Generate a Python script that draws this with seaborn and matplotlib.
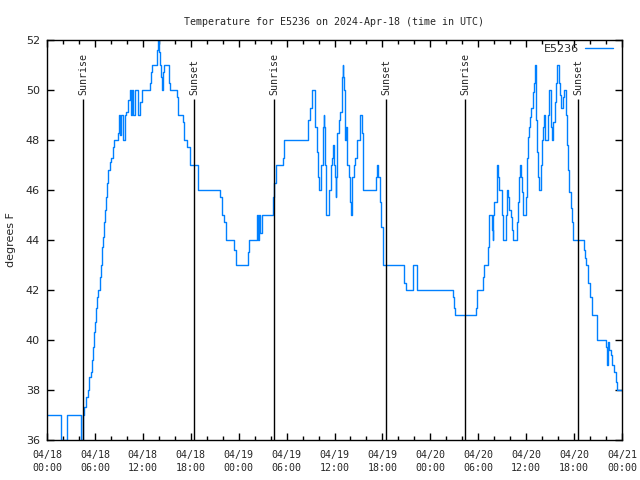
import numpy as np
import pandas as pd
import matplotlib
matplotlib.use("Agg")
import matplotlib.pyplot as plt
import matplotlib.dates as mdates
import seaborn as sns

# hours since 2024-04-18 00:00 UTC, temperature starting at that hour (step data)
hours = [0, 1.75, 2.5, 4.26, 4.5, 4.67, 4.88, 5.09, 5.3, 5.47, 5.59, 5.72, 5.84, 5.97,
         6.09, 6.22, 6.43, 6.64, 6.8, 6.93, 7.05, 7.18, 7.3, 7.43, 7.56, 7.68, 7.89,
         8.01, 8.22, 8.39, 8.93, 9.06, 9.18, 9.27, 9.47, 9.77, 9.89, 10.19, 10.39,
         10.48, 10.64, 10.81, 10.98, 11.35, 11.65, 11.85, 12.9, 13.02, 13.15, 13.73,
         13.86, 13.98, 14.15, 14.27, 14.4, 14.48, 14.65, 15.32, 15.4, 16.24, 16.36,
         16.99, 17.15, 17.49, 17.91, 18.95, 21.66, 21.87, 22.16, 22.37, 23.46, 23.67,
         25.2, 25.34, 26.25, 26.4, 26.55, 26.7, 26.88, 28.26, 28.42, 28.63, 29.51,
         29.72, 32.72, 32.97, 33.14, 33.56, 33.77, 33.89, 34.02, 34.35, 34.6, 34.65,
         34.72, 34.81, 34.98, 35.31, 35.52, 35.73, 35.86, 35.98, 36.11, 36.19, 36.25,
         36.36, 36.53, 36.69, 36.9, 37.03, 37.11, 37.24, 37.32, 37.45, 37.61, 37.82,
         37.99, 38.07, 38.24, 38.45, 38.61, 38.78, 39.2, 39.49, 39.62, 41.2, 41.33,
         41.49, 41.7, 41.87, 42.04, 42.12, 44.75, 44.92, 45.79, 46.38, 50.79, 50.96,
         51.13, 53.72, 53.89, 54.55, 54.68, 55.26, 55.39, 55.76, 55.8, 55.89, 56.01,
         56.31, 56.39, 56.52, 56.64, 57.02, 57.14, 57.48, 57.65, 57.77, 57.9, 58.07,
         58.23, 58.4, 58.81, 58.9, 58.98, 59.11, 59.19, 59.31, 59.44, 59.65, 60.02,
         60.15, 60.27, 60.4, 60.52, 60.65, 60.82, 60.94, 61.07, 61.27, 61.4, 61.53,
         61.65, 61.82, 61.99, 62.11, 62.24, 62.36, 62.78, 62.91, 63.11, 63.24, 63.41,
         63.57, 63.7, 63.82, 64.12, 64.24, 64.41, 64.58, 64.74, 64.99, 65.12, 65.24,
         65.41, 65.58, 65.7, 65.83, 67.25, 67.37, 67.5, 67.79, 68.0, 68.21, 68.83,
         70.0, 70.13, 70.25, 70.42, 70.59, 70.8, 71.05, 71.21, 71.38, 72.0]
temps = [37, 36, 37, 36, 37, 37.3, 37.7, 38, 38.5, 38.7, 39.2, 39.7, 40.3, 40.7,
         41.3, 41.7, 42, 42.5, 43, 43.7, 44.1, 44.7, 45.2, 45.7, 46.3, 46.8, 47.1,
         47.3, 47.7, 48, 48.3, 49, 48.2, 49, 48, 49, 49.1, 49.6, 50,
         49, 50, 49, 50, 49, 49.5, 50, 50.3, 50.7, 51, 51.6,
         52, 51.5, 51, 50.5, 50, 50.7, 51, 50.3, 50, 49.7, 49,
         48.7, 48, 47.7, 47, 46, 45.7, 45, 44.7, 44, 43.6, 43,
         43.5, 44, 45, 44, 45, 44.3, 45, 45.7, 46.3, 47, 47.3,
         48, 48.8, 49.3, 50, 48.5, 47.5, 46.5, 46, 47, 48.5, 49,
         48.5, 47, 45, 46, 47, 47.3, 47.8, 47, 46.5, 45.7, 46.5,
         48.3, 48.8, 49.1, 50.5, 51, 50.5, 50, 48, 48.5, 47, 46.5,
         45.5, 45, 46.5, 47, 47.3, 48, 49, 48.3, 46, 46.5, 47,
         46.5, 45.5, 44.5, 43.7, 43, 42.3, 42, 43, 42, 41.7, 41.3,
         41, 41.3, 42, 42.5, 43, 43.7, 45, 44.4, 44, 45, 45.5,
         46.8, 47, 46.5, 46, 45, 44, 45, 46, 45.7, 45.2, 44.9,
         44.4, 44, 44.4, 44.7, 45.5, 46.5, 47, 46.5, 45.9, 45, 45.7,
         47.3, 48.1, 48.5, 48.9, 49.3, 49.9, 50.3, 51, 48.8, 47.5, 46.5,
         46, 47, 48, 48.5, 49, 48, 49, 50, 48.5, 48, 48.7,
         49.5, 50.3, 51, 50.3, 49.8, 49.3, 49.7, 50, 49, 47.8, 46.8,
         45.9, 45.3, 44.7, 44, 43.6, 43.3, 43, 42.3, 41.7, 41, 40,
         39.7, 39, 39.9, 39.6, 39.4, 39, 38.7, 38.3, 38, 38]

sunrise_hours = [4.55, 28.46, 52.38]
sunset_hours = [18.45, 42.45, 66.53]

start = pd.Timestamp("2024-04-18 00:00")
df = pd.DataFrame({"time": start + pd.to_timedelta(hours, unit="h"), "temp": temps})

sns.set_style("ticks")
plt.rcParams["font.family"] = ["DejaVu Sans"]
mono = "DejaVu Sans Mono"

fig = plt.figure(figsize=(6.4, 4.8), dpi=100)
ax = fig.add_axes([47 / 640, 40 / 480, 575 / 640, 400 / 480])

sns.lineplot(data=df, x="time", y="temp", drawstyle="steps-post", color="#0080ff",
             lw=1, label="E5236", ax=ax)

for h in sunrise_hours:
    t = start + pd.Timedelta(hours=h)
    ax.vlines(t, 36, 49.65, color="black", lw=1)
    ax.text(t, 49.8, "Sunrise", rotation=90, ha="center", va="bottom",
            fontsize=7.2, family=mono)
for h in sunset_hours:
    t = start + pd.Timedelta(hours=h)
    ax.vlines(t, 36, 49.65, color="black", lw=1)
    ax.text(t, 49.8, "Sunset", rotation=90, ha="center", va="bottom",
            fontsize=7.2, family=mono)

ax.set_xlim(start, start + pd.Timedelta(hours=72))
ax.set_ylim(36, 52)
ax.set_yticks(np.arange(36, 53, 2))
ax.xaxis.set_major_locator(mdates.HourLocator(byhour=[0, 6, 12, 18]))
ax.xaxis.set_minor_locator(mdates.HourLocator(interval=2))
ax.xaxis.set_major_formatter(mdates.DateFormatter("%m/%d\n%H:%M"))
for lab in ax.get_xticklabels():
    lab.set_family(mono)
    lab.set_fontsize(7.2)
    lab.set_linespacing(1.45)
ax.tick_params(axis="y", labelsize=8, pad=5)
ax.tick_params(axis="x", pad=7)
ax.tick_params(which="both", direction="in", top=True, right=True, color="black", width=1)
ax.tick_params(which="major", length=5)
ax.tick_params(which="minor", length=3)
for s in ax.spines.values():
    s.set_color("black")
    s.set_linewidth(1)

ax.set_xlabel("")
ax.set_ylabel("degrees F", fontsize=8, labelpad=7)
ax.set_title("Temperature for E5236 on 2024-Apr-18 (time in UTC)", fontsize=7.2,
             family=mono, pad=11)
ax.legend(loc="upper right", bbox_to_anchor=(1.0, 1.012), frameon=False,
          markerfirst=False, fontsize=8, handlelength=2.5, borderaxespad=0.4,
          handletextpad=0.6)

fig.savefig("out.png", dpi=100)
